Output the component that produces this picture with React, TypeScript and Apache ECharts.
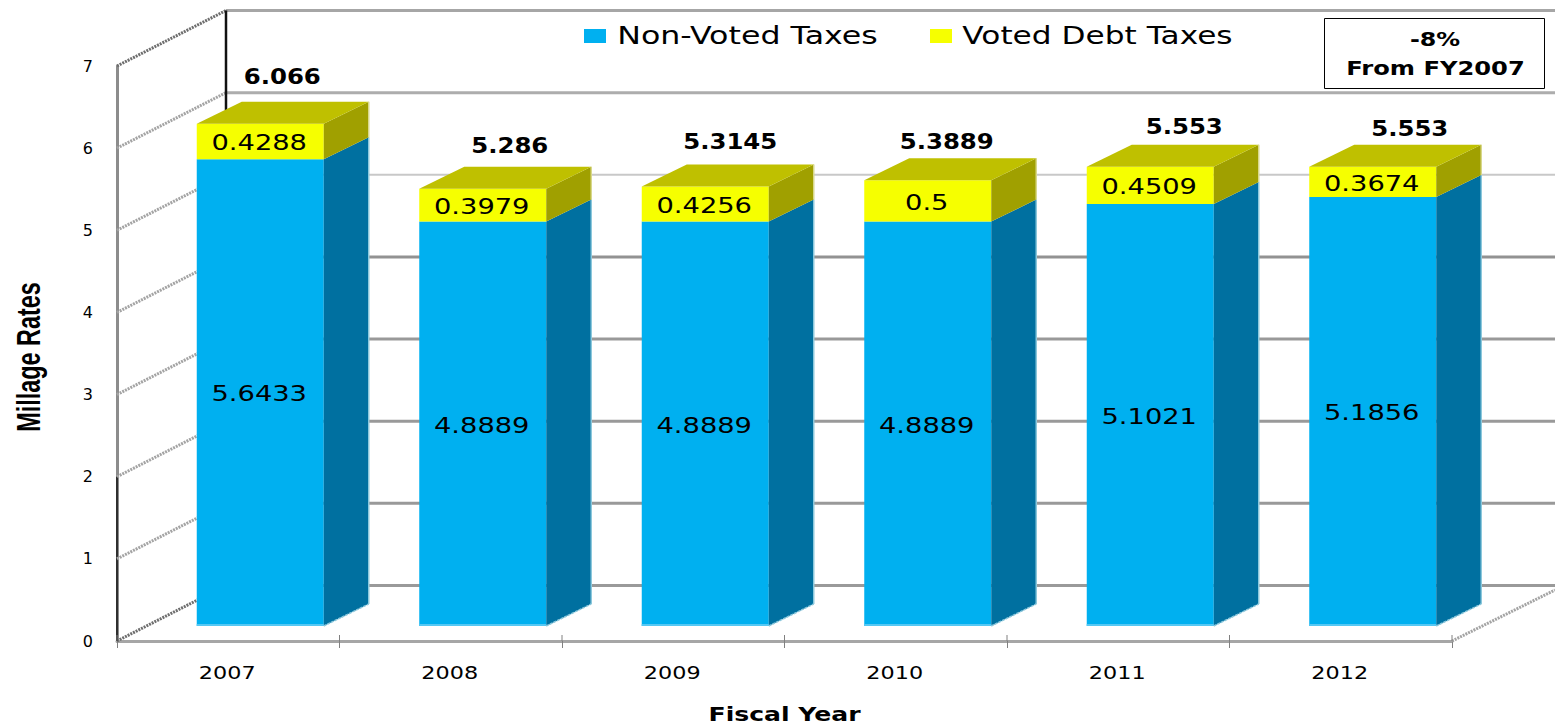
import React, { useEffect, useRef } from "react";
import * as echarts from "echarts";

const fiscalYears = ["2007", "2008", "2009", "2010", "2011", "2012"];
const nonVotedTaxes = [5.6433, 4.8889, 4.8889, 4.8889, 5.1021, 5.1856];
const votedDebtTaxes = [0.4288, 0.3979, 0.4256, 0.5, 0.4509, 0.3674];
const totalLabels = ["6.066", "5.286", "5.3145", "5.3889", "5.553", "5.553"];
const yTicks = [0, 1, 2, 3, 4, 5, 6, 7];

// Hand-placed nudges of the total labels, measured from each bar's front centre and top edge.
const totalLabelNudgeX = [22, 27, 25, 19, 34, 37];
const totalLabelNudgeY = [-47, -43, -45, -39, -40, -38];

const FONT = '"DejaVu Sans"';
const GRID = { left: 117, top: 66, width: 1335, height: 575 };

// Oblique projection of the 3D box: floor gap in front of the bars, bar depth, wall depth.
const FRONT_GAP = [32, -15];
const BAR_DEPTH = [45, -22];
const WALL_DEPTH = [109, -55.5];
const BAR_WIDTH = 127;
const BAR_SCALE = 1.007;

const BLUE = { front: "#00b0f0", side: "#0070a0", edge: "#8cc8dc", foot: "#55c8f4" };
const YELLOW = { front: "#f6ff00", side: "#a0a000", top: "#bfc000", edge: "#d8d88c" };

function label(
  text: string,
  x: number,
  y: number,
  fontSize: number,
  scaleX: number,
  fontWeight: string = "normal"
) {
  return {
    type: "text",
    x,
    y,
    scaleX,
    style: {
      text,
      fill: "#000",
      fontFamily: FONT,
      fontSize,
      fontWeight,
      align: "center",
      verticalAlign: "middle",
    },
  };
}

function line(x1: number, y1: number, x2: number, y2: number, stroke: string, lineWidth: number, lineDash?: number[]) {
  return {
    type: "line",
    shape: { x1, y1, x2, y2 },
    style: { stroke, lineWidth, lineDash, fill: "none" },
  };
}

function poly(points: number[][], fill: string) {
  return { type: "polygon", shape: { points }, style: { fill } };
}

const backLineStyle: Record<number, [string, number]> = {
  0: ["#9a9a9a", 3],
  1: ["#999999", 3],
  2: ["#999999", 3],
  3: ["#999999", 3],
  4: ["#929292", 3],
  5: ["#c8c8c8", 2],
  6: ["#adadad", 3],
  7: ["#a6a6a6", 3],
};

// Back wall lines, side wall diagonals and the floor edge.
function renderWalls(_: any, api: any) {
  const v = api.value(0);
  const [x0, y] = api.coord([0, v]);
  const left = x0 - api.size([1, 0])[0] / 2;
  const right = left + GRID.width;
  const backX = left + WALL_DEPTH[0];
  const backY = y + WALL_DEPTH[1];
  const [stroke, width] = backLineStyle[v];
  const edgeTone = v === 0 || v === 7 ? "#6e6e6e" : "#a4a4a4";
  const children: any[] = [
    line(backX, backY, 1555, backY, stroke, width),
    line(left, y, backX, backY, edgeTone, 3, [2, 1]),
  ];
  if (v === 0) {
    children.push(line(right, y, 1555, y - 51, "#a4a4a4", 3, [2, 1]));
    children.push(line(left, y, left, api.coord([0, 2])[1], "#111", 1.5));
  }
  if (v === 7) {
    children.push(line(backX, backY, backX, backY + 100, "#111", 2.5));
  }
  return { type: "group", children };
}

// One stacked segment of a bar: front, side, optional top, and its value label.
function renderSegment(values: number[], bases: number[] | null, colors: any, _: any, api: any) {
  const i = api.value(0);
  const value = api.value(1);
  const base = bases ? bases[i] : 0;
  const unit = api.size([1, 1])[1] * BAR_SCALE;
  const [cx, zeroY] = api.coord([i, 0]);
  const x1 = cx + FRONT_GAP[0] - BAR_WIDTH / 2;
  const x2 = x1 + BAR_WIDTH;
  const floorY = zeroY + FRONT_GAP[1];
  const yBottom = floorY - base * unit;
  const yTop = floorY - (base + value) * unit;
  const [dx, dy] = BAR_DEPTH;

  const children: any[] = [
    poly([[x1, yTop], [x2, yTop], [x2, yBottom], [x1, yBottom]], colors.front),
    poly([[x2, yTop], [x2 + dx, yTop + dy], [x2 + dx, yBottom + dy], [x2, yBottom]], colors.side),
    line(x2 + dx, yTop + dy, x2 + dx, yBottom + dy, colors.edge, 1.5),
  ];

  if (bases) {
    children.push(poly([[x1, yTop], [x1 + dx, yTop + dy], [x2 + dx, yTop + dy], [x2, yTop]], colors.top));
    children.push(
      label(
        totalLabels[i],
        cx + FRONT_GAP[0] + totalLabelNudgeX[i],
        yTop + totalLabelNudgeY[i],
        20.5,
        1.19,
        "bold"
      )
    );
  } else {
    children.push(line(x1, yBottom - 1, x2, yBottom - 1, colors.foot, 2));
    children.push(line(x2, yBottom, x2 + dx, yBottom + dy, colors.edge, 1.5, [3, 1]));
  }
  children.push(label(String(values[i]), cx + FRONT_GAP[0] - 1, (yTop + yBottom) / 2 + 1.5, 21, 1.3));
  return { type: "group", children };
}

// Year captions with a tick stub that crosses the axis at each band edge.
function renderYearLabel(_: any, api: any) {
  const i = api.value(0);
  const [cx, y] = api.coord([i, 0]);
  const step = api.size([1, 0])[0];
  const children: any[] = [label(fiscalYears[i], cx - 1, y + 32, 18, 1.24)];
  children.push(line(cx - step / 2, y - 6, cx - step / 2, y, "#808080", 1));
  if (i === fiscalYears.length - 1) {
    children.push(line(cx + step / 2, y - 6, cx + step / 2, y, "#808080", 1));
  }
  return { type: "group", children };
}

function graphicText(text: string, x: number, y: number, fontSize: number, scaleX: number, fontWeight = "normal") {
  return { ...label(text, x, y, fontSize, scaleX, fontWeight), z: 20 };
}

export default function App() {
  const ref = useRef<HTMLDivElement>(null);

  useEffect(() => {
    const chart = echarts.init(ref.current!, undefined, { renderer: "svg" });
    chart.setOption({
      animation: false,
      backgroundColor: "#fff",
      grid: { ...GRID },
      xAxis: {
        type: "category",
        data: fiscalYears,
        boundaryGap: true,
        axisLine: { lineStyle: { color: "#a6a6a6", width: 3 } },
        axisTick: { show: true, length: 7, lineStyle: { color: "#808080", width: 1 } },
        axisLabel: { show: false },
        splitLine: { show: false },
      },
      yAxis: {
        type: "value",
        min: 0,
        max: 7,
        interval: 1,
        axisLine: { show: true, lineStyle: { color: "#8c8c8c", width: 3 } },
        axisTick: { show: false },
        axisLabel: {
          margin: 24,
          color: "#000",
          fontFamily: FONT,
          fontSize: 16,
          formatter: (v: number) => (yTicks.includes(v) ? String(v) : ""),
        },
        splitLine: { show: false },
      },
      series: [
        {
          type: "custom",
          name: "walls",
          silent: true,
          clip: false,
          z: 1,
          data: yTicks.map((v) => [v]),
          encode: { y: 0 },
          renderItem: renderWalls,
        },
        {
          type: "custom",
          name: "years",
          silent: true,
          clip: false,
          z: 1,
          data: fiscalYears.map((_, i) => [i]),
          encode: { x: 0 },
          renderItem: renderYearLabel,
        },
        {
          type: "custom",
          name: "Non-Voted Taxes",
          clip: false,
          z: 3,
          data: nonVotedTaxes.map((v, i) => [i, v]),
          encode: { x: 0, y: 1 },
          renderItem: (p: any, api: any) => renderSegment(nonVotedTaxes, null, BLUE, p, api),
        },
        {
          type: "custom",
          name: "Voted Debt Taxes",
          clip: false,
          z: 4,
          data: votedDebtTaxes.map((v, i) => [i, v]),
          encode: { x: 0, y: 1 },
          renderItem: (p: any, api: any) => renderSegment(votedDebtTaxes, nonVotedTaxes, YELLOW, p, api),
        },
      ],
      graphic: [
        { type: "rect", shape: { x: 584, y: 29, width: 22, height: 14 }, style: { fill: BLUE.front }, z: 20 },
        graphicText("Non-Voted Taxes", 747.5, 36, 24, 1.32),
        { type: "rect", shape: { x: 930, y: 29, width: 22, height: 14 }, style: { fill: YELLOW.front }, z: 20 },
        graphicText("Voted Debt Taxes", 1097.5, 36, 24, 1.3),
        {
          type: "rect",
          shape: { x: 1324.5, y: 18.5, width: 220, height: 70 },
          style: { fill: "#fff", stroke: "#000", lineWidth: 1 },
          z: 19,
        },
        graphicText("-8%", 1435, 39, 20, 1.19, "bold"),
        graphicText("From FY2007", 1435.5, 67.5, 20, 1.21, "bold"),
        graphicText("Fiscal Year", 784.5, 714, 20, 1.255, "bold"),
        {
          type: "text",
          x: 28,
          y: 357,
          rotation: Math.PI / 2,
          scaleX: 0.71,
          z: 20,
          style: {
            text: "Millage Rates",
            fill: "#000",
            fontFamily: '"Liberation Sans Narrow", "Liberation Sans"',
            fontSize: 33,
            fontWeight: "bold",
            align: "center",
            verticalAlign: "middle",
          },
        },
      ],
    });
    return () => chart.dispose();
  }, []);

  return <div ref={ref} style={{ position: "absolute", left: 0, top: 0, width: 1555, height: 726 }} />;
}
